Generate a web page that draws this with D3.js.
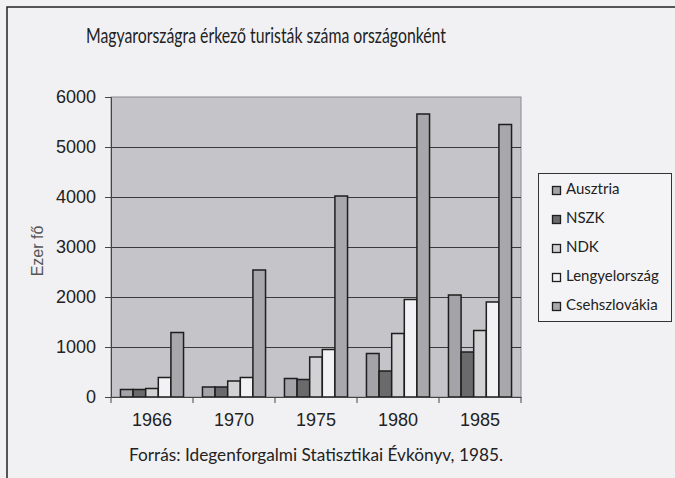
<!DOCTYPE html>
<html>
<head>
<meta charset="utf-8">
<script src="https://cdn.jsdelivr.net/npm/d3@7"></script>
<style>
  body { margin: 0; background: #f1f1f3; }
  svg { display: block; }
</style>
</head>
<body>
<svg id="chart"></svg>
<script>
// chart data
const years = ["1966", "1970", "1975", "1980", "1985"];
const countries = ["Ausztria", "NSZK", "NDK", "Lengyelország", "Csehszlovákia"];
const ausztria = [150, 200, 370, 870, 2040];
const nszk = [150, 200, 350, 520, 900];
const ndk = [170, 320, 800, 1270, 1330];
const lengyel = [390, 390, 950, 1950, 1900];
const cseh = [1290, 2540, 4020, 5660, 5450];
const yTicks = [0, 1000, 2000, 3000, 4000, 5000, 6000];

const series = [ausztria, nszk, ndk, lengyel, cseh];
const colours = ["#a4a4a8", "#6a6a6c", "#d2d2d4", "#f2f2f4", "#a8a8ac"];

width = 675;
height = 478;

const svg = d3.select("#chart")
  .attr("width", width)
  .attr("height", height);

// outer frame
svg.append("rect")
  .attr("x", 7).attr("y", 7)
  .attr("width", width).attr("height", height)
  .attr("fill", "#f1f1f3")
  .attr("stroke", "#222")
  .attr("stroke-width", 1.5);

const plot = { left: 111, top: 97, right: 521, bottom: 397 };

const x = d3.scaleBand()
  .domain(years)
  .range([plot.left, plot.right]);

// bars inside each year: gap width 150% like excel
const xInner = d3.scaleBand()
  .domain(countries)
  .range([0, x.bandwidth()])
  .paddingOuter(0.75)
  .paddingInner(0);

const y = d3.scaleLinear()
  .domain([0, 6000])
  .range([plot.bottom, plot.top]);

// plot background
svg.append("rect")
  .attr("x", plot.left).attr("y", plot.top)
  .attr("width", plot.right - plot.left)
  .attr("height", plot.bottom - plot.top)
  .attr("fill", "#c5c5c9")
  .attr("stroke", "#8a8a8e")
  .attr("stroke-width", 1);

// gridlines
svg.append("g")
  .selectAll("line")
  .data(yTicks.filter(d => d > 0 && d < 6000))
  .enter()
  .append("line")
  .attr("x1", plot.left).attr("x2", plot.right)
  .attr("y1", d => y(d) + 0.5).attr("y2", d => y(d) + 0.5)
  .attr("stroke", "#3a3a3a")
  .attr("stroke-width", 1);

// bars
const rows = [];
years.forEach((yr, i) => {
  countries.forEach((c, j) => {
    rows.push({ year: yr, country: c, value: series[j][i], colour: colours[j] });
  });
});

svg.append("g")
  .selectAll("rect")
  .data(rows)
  .enter()
  .append("rect")
  .attr("x", d => x(d.year) + xInner(d.country))
  .attr("y", d => y(d.value))
  .attr("width", xInner.bandwidth())
  .attr("height", d => plot.bottom - y(d.value))
  .attr("fill", d => d.colour)
  .attr("stroke", "#1e1e1e")
  .attr("stroke-width", 1.5);

// y axis
const yAxis = svg.append("g")
  .attr("transform", `translate(${plot.left},0)`)
  .attr("font-size", null)
  .attr("font-family", null)
  .call(d3.axisLeft(y).tickValues(yTicks).tickSize(6).tickPadding(9).tickFormat(d3.format("d")));
yAxis.attr("font-size", 18).attr("font-family", "Liberation Sans, Arial, sans-serif");
yAxis.select(".domain").attr("stroke", "#444");
yAxis.selectAll(".tick line").attr("stroke", "#444");
yAxis.selectAll("text").attr("fill", "#222");

// x axis
const xAxis = svg.append("g")
  .attr("transform", `translate(0,${plot.bottom})`)
  .call(d3.axisBottom(x).tickSize(0).tickPadding(16));
xAxis.attr("font-size", 18).attr("font-family", "Liberation Sans, Arial, sans-serif");
xAxis.select(".domain").attr("stroke", "#444");
xAxis.selectAll("text").attr("fill", "#222");

// category separator ticks
svg.append("g")
  .selectAll("line")
  .data(years.concat(["end"]))
  .enter()
  .append("line")
  .attr("x1", (d, i) => i < years.length ? x(d) : plot.right)
  .attr("x2", (d, i) => i < years.length ? x(d) : plot.right)
  .attr("y1", plot.bottom).attr("y2", plot.bottom + 6)
  .attr("stroke", "#444");

// title
svg.append("text")
  .attr("x", 86).attr("y", 43)
  .attr("fill", "#222")
  .attr("textLength", 360)
  .attr("lengthAdjust", "spacingAndGlyphs")
  .style("font-family", "Lato, sans-serif")
  .style("font-size", "21px")
  .text("Magyarországra érkező turisták száma országonként");

// y label
svg.append("text")
  .attr("transform", "translate(43,251) rotate(-90)")
  .attr("text-anchor", "middle")
  .attr("fill", "#555")
  .style("font-family", "Liberation Sans, Arial, sans-serif")
  .style("font-size", "16px")
  .text("Ezer fő");

// source
svg.append("text")
  .attr("x", 129).attr("y", 461)
  .attr("fill", "#222")
  .attr("textLength", 374)
  .attr("lengthAdjust", "spacingAndGlyphs")
  .style("font-family", "Lato, sans-serif")
  .style("font-size", "17px")
  .text("Forrás: Idegenforgalmi Statisztikai Évkönyv, 1985.");

// legend
const legend = svg.append("g");
legend.append("rect")
  .attr("x", 538.5).attr("y", 173.5)
  .attr("width", 133).attr("height", 148)
  .attr("fill", "#f4f4f6")
  .attr("stroke", "#333");

const item = legend.selectAll("g.item")
  .data(countries)
  .enter()
  .append("g")
  .attr("class", "item")
  .attr("transform", (d, i) => `translate(552,${186 + i * 29})`);

item.append("rect")
  .attr("x", 0.5).attr("y", 0.5)
  .attr("width", 8).attr("height", 8)
  .attr("fill", (d, i) => colours[i])
  .attr("stroke", "#1e1e1e")
  .attr("stroke-width", 1.3);

item.append("text")
  .attr("x", 14).attr("y", 8)
  .attr("fill", "#222")
  .style("font-family", "Lato, sans-serif")
  .style("font-size", "15px")
  .text(d => d);
</script>
</body>
</html>
